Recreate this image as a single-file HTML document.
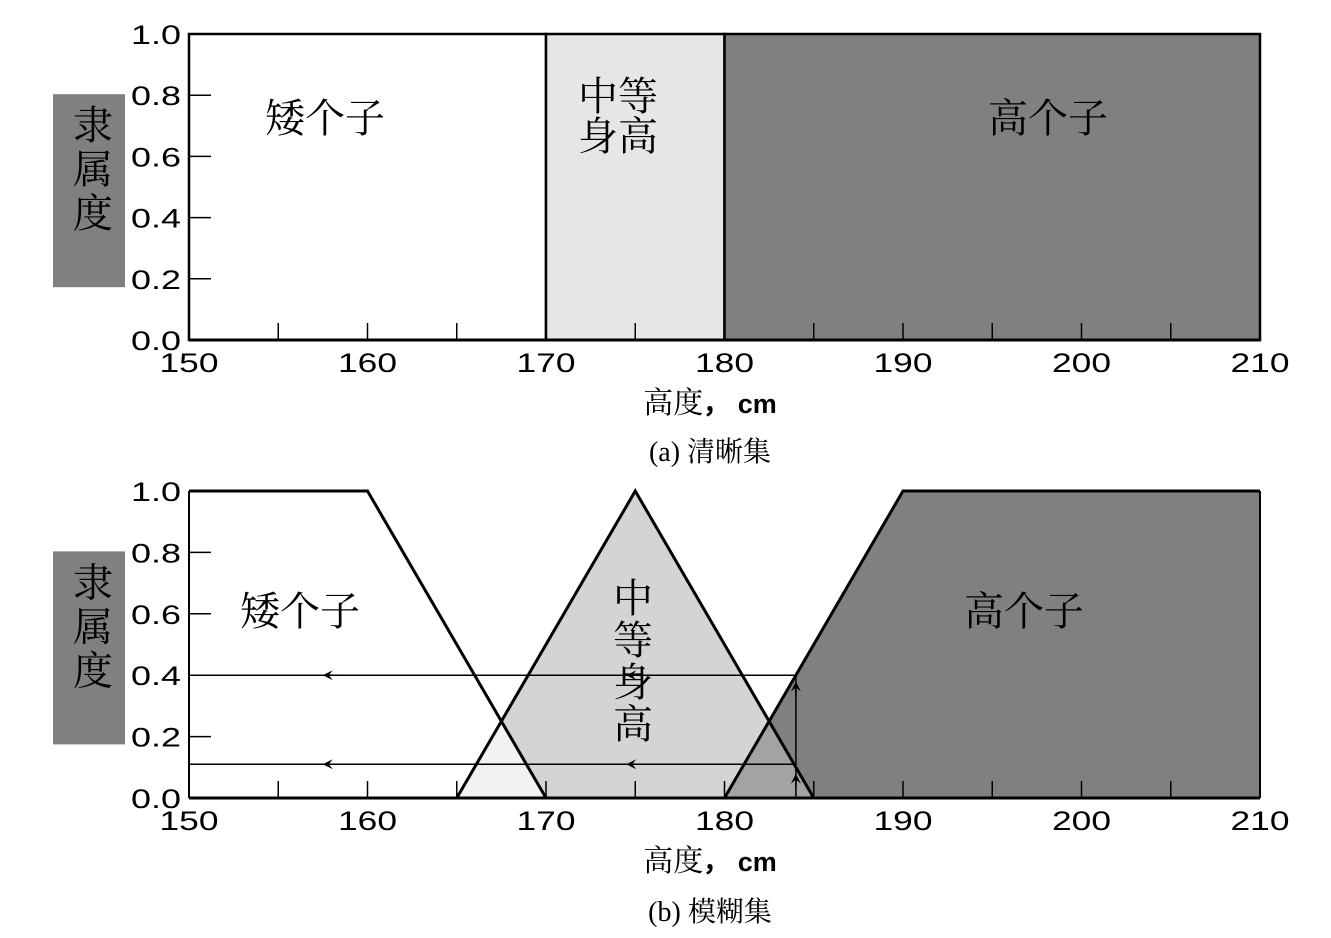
<!DOCTYPE html>
<html><head><meta charset="utf-8"><style>
body{margin:0;background:#fff}
svg{display:block}
.tk{font-family:"Liberation Sans",sans-serif;font-size:27px;fill:#000}
.cj{font-family:"Liberation Serif","Noto Serif CJK SC",serif;fill:#000}
</style></head><body>
<svg id="c" width="1331" height="938" viewBox="0 0 1331 938" xmlns="http://www.w3.org/2000/svg">
<defs>
<marker id="al" viewBox="0 0 10 10" refX="5" refY="5" markerWidth="10" markerHeight="10" markerUnits="userSpaceOnUse" orient="auto"><path d="M10,5 L0,0 L4,5 L0,10 Z" fill="#000"/></marker>
</defs>
</svg>
<script>
const xTicksMajor=[150,160,170,180,190,200,210];
const yTicks=[0.0,0.2,0.4,0.6,0.8,1.0];
const crispSets=["矮个子","中等身高","高个子"];
const crispBounds=[150,170,180,210];
const shortX=[150,160,170];const shortY=[1,1,0];
const mediumX=[165,175,185];const mediumY=[0,1,0];
const tallX=[180,190,210];const tallY=[0,1,1];
const inputX=184;const degrees=[0.4,0.11];

const svg=document.getElementById('c');const NS='http://www.w3.org/2000/svg';
function mk(t,a,p){const e=document.createElementNS(NS,t);for(const k in a)e.setAttribute(k,a[k]);(p||svg).appendChild(e);return e;}
const X=v=>189+(v-150)*17.85;
function Ymaker(top,bot){return v=>bot-(bot-top)*v;}
function axes(Y,bot,name){
  const g=mk('g',{});
  
  
  yTicks.forEach(v=>{
    const t=mk('text',{x:156,y:Y(v)+10,'text-anchor':'middle',class:'tk',textLength:50,lengthAdjust:'spacingAndGlyphs'},g);t.textContent=v.toFixed(1);
    
    if(v>0&&v<1)mk('line',{x1:X(150),x2:X(150)+22,y1:Y(v),y2:Y(v),stroke:'#000','stroke-width':1.5},g);
  });
  for(let v=155;v<210;v+=5)mk('line',{x1:X(v),x2:X(v),y1:bot,y2:bot-17,stroke:'#000','stroke-width':1.5},g);
  xTicksMajor.forEach(v=>{const t=mk('text',{x:X(v),y:bot+32,'text-anchor':'middle',class:'tk',textLength:59,lengthAdjust:'spacingAndGlyphs'},g);t.textContent=v;
    });
  mk('line',{x1:X(150),x2:X(150),y1:Y(1),y2:bot,stroke:'#000','stroke-width':2},g);
  mk('line',{x1:X(150),x2:X(210),y1:bot,y2:bot,stroke:'#000','stroke-width':3},g);
  const r=mk('rect',{x:53,y:Y(0.8)-1,width:72,height:193,fill:'#808080'},g);
  
  ['隶','属','度'].forEach((c,i)=>{const t=mk('text',{x:93,y:Y(0.8)+44+i*44,'text-anchor':'middle',class:'cj','font-size':40},g);t.textContent=c;});
  const xt=mk('text',{x:710,y:bot+73,'text-anchor':'middle',class:'cj','font-size':30},g);
  xt.innerHTML='高度<tspan font-family="Liberation Sans" font-weight="bold" font-size="27">， cm</tspan>';
  
}
const Y1=Ymaker(34,340);
const fills=['#ffffff','#e6e6e6','#808080'];
for(let i=0;i<3;i++){const r=mk('rect',{x:X(crispBounds[i]),y:Y1(1),width:X(crispBounds[i+1])-X(crispBounds[i]),height:Y1(0)-Y1(1),fill:fills[i],stroke:'#000','stroke-width':2.5});
  }
axes(Y1,340,'crisp');
let t=mk('text',{x:325,y:132,'text-anchor':'middle',class:'cj','font-size':40});t.textContent=crispSets[0];
t=mk('text',{x:618,y:110,'text-anchor':'middle',class:'cj','font-size':40});t.textContent='中等';
t=mk('text',{x:618,y:150,'text-anchor':'middle',class:'cj','font-size':40});t.textContent='身高';
t=mk('text',{x:1048,y:132,'text-anchor':'middle',class:'cj','font-size':40});t.textContent=crispSets[2];
t=mk('text',{x:710,y:461,'text-anchor':'middle',class:'cj','font-size':28});t.textContent='(a) 清晰集';


const Y2=Ymaker(491,798);
function poly(xs,ys,closeBottom){let p=xs.map((x,i)=>X(x)+','+Y2(ys[i]));if(closeBottom){p.push(X(xs[xs.length-1])+','+Y2(0));p.push(X(xs[0])+','+Y2(0));}return p.join(' ');}
const tallP=mk('polygon',{points:poly(tallX,tallY,true),fill:'#808080'});

const medP=mk('polygon',{points:poly(mediumX,mediumY,true),fill:'#d4d4d4'});

mk('clipPath',{id:'cm'}).appendChild(medP.cloneNode());
const ov1=mk('polygon',{points:poly(tallX,tallY,true),fill:'#a3a3a3','clip-path':'url(#cm)'});

const ov2=mk('polygon',{points:poly(shortX,shortY,true),fill:'#f2f2f2','clip-path':'url(#cm)'});

[['short',shortX,shortY],['medium',mediumX,mediumY],['tall',tallX,tallY]].forEach(([n,xs,ys])=>{
  const l=mk('polyline',{points:poly(xs,ys,false),fill:'none',stroke:'#000','stroke-width':3});
  });
mk('line',{x1:X(210),x2:X(210),y1:Y2(1),y2:Y2(0),stroke:'#000','stroke-width':2});
axes(Y2,798,'fuzzy');
degrees.forEach((d,i)=>{
  const l=mk('line',{x1:X(inputX),x2:X(150),y1:Y2(d),y2:Y2(d),stroke:'#000','stroke-width':1.5});
  
  [X(158),X(175)].forEach(ax=>mk('line',{x1:ax+6,x2:ax-4,y1:Y2(d),y2:Y2(d),stroke:'#000','stroke-width':1.5,'marker-end':'url(#al)'}));
});
mk('line',{x1:X(inputX),x2:X(inputX),y1:Y2(0),y2:Y2(degrees[0]),stroke:'#000','stroke-width':1.5});
[0.05,0.35].forEach(d=>mk('line',{x1:X(inputX),x2:X(inputX),y1:Y2(d)+6,y2:Y2(d)-4,stroke:'#000','stroke-width':1.5,'marker-end':'url(#al)'}));
t=mk('text',{x:300,y:625,'text-anchor':'middle',class:'cj','font-size':40});t.textContent=crispSets[0];
'中等身高'.split('').forEach((c,i)=>{t=mk('text',{x:633,y:612+i*42,'text-anchor':'middle',class:'cj','font-size':40});t.textContent=c;});
t=mk('text',{x:1024,y:625,'text-anchor':'middle',class:'cj','font-size':40});t.textContent=crispSets[2];
t=mk('text',{x:710,y:921,'text-anchor':'middle',class:'cj','font-size':28});t.textContent='(b) 模糊集';

</script>
</body></html>
